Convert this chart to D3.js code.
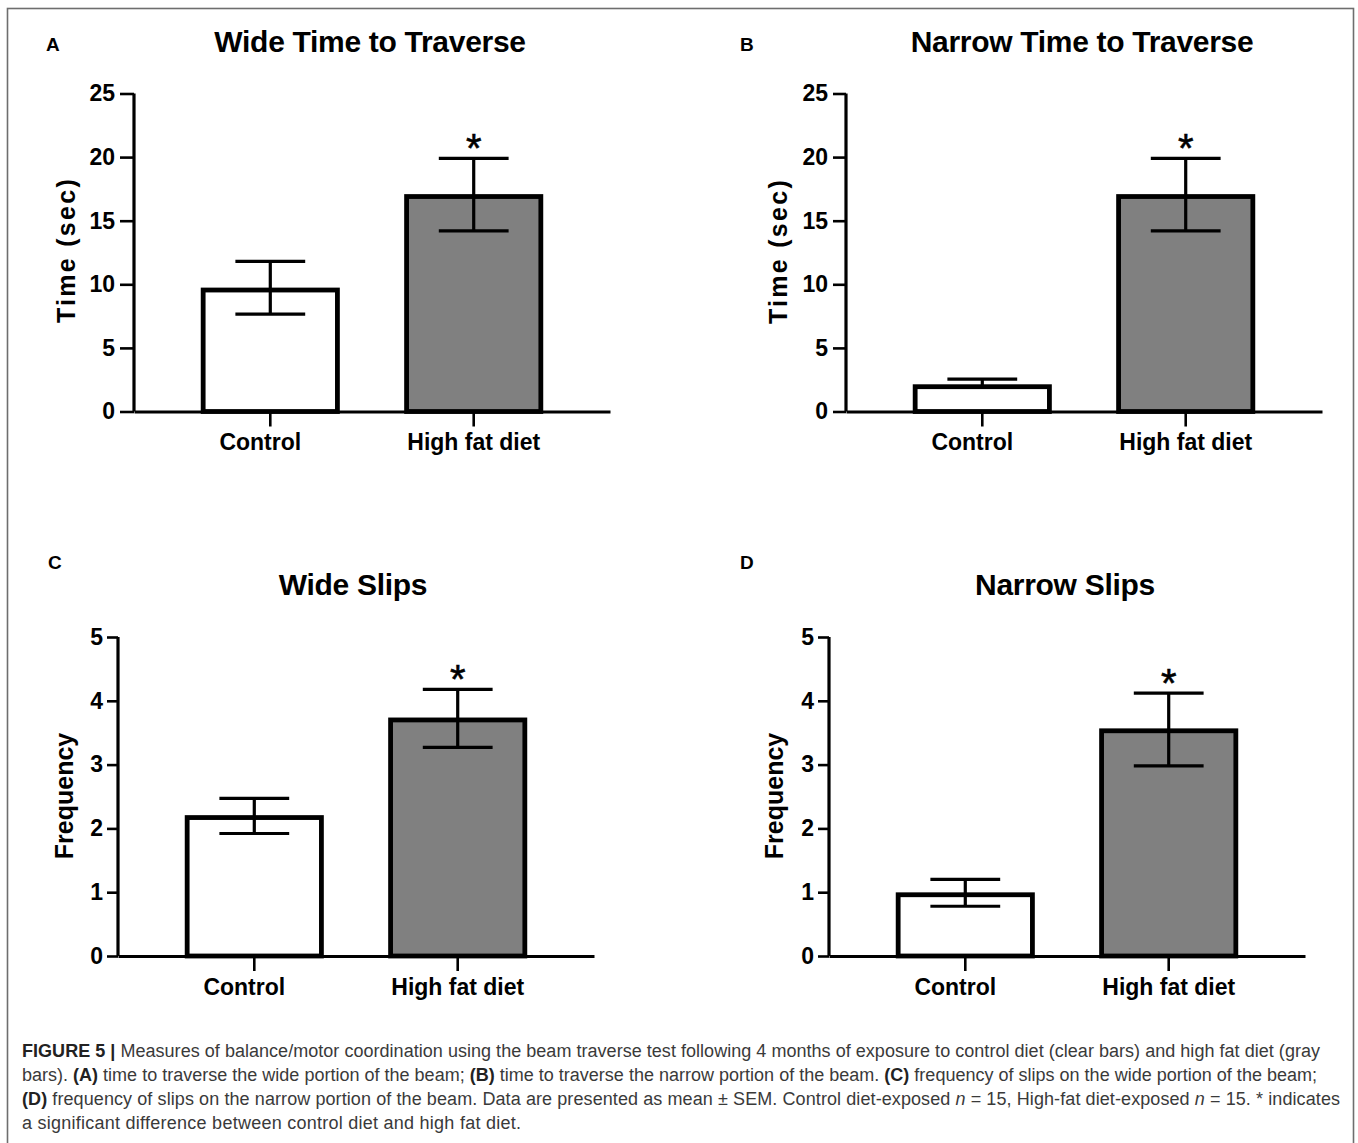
<!DOCTYPE html>
<html>
<head>
<meta charset="utf-8">
<script src="https://cdn.jsdelivr.net/npm/d3@7"></script>
<style>
  html, body { margin: 0; padding: 0; background: #fff; }
  svg { display: block; }
</style>
</head>
<body>
<svg id="fig" width="1358" height="1143"></svg>
<script>
// ---------------- DATA ----------------
const categories = ["Control", "High fat diet"];

const panelLetters = ["A", "B", "C", "D"];
const panelTitles = ["Wide Time to Traverse", "Narrow Time to Traverse", "Wide Slips", "Narrow Slips"];
const yLabels = ["Time (sec)", "Time (sec)", "Frequency", "Frequency"];

const timeTicks = [0, 5, 10, 15, 20, 25];
const slipTicks = [0, 1, 2, 3, 4, 5];

// means
const wideTimeMean   = [9.55, 16.9];
const narrowTimeMean = [1.95, 16.9];
const wideSlipMean   = [2.17, 3.70];
const narrowSlipMean = [0.96, 3.53];

// mean + SEM (upper whisker ends)
const wideTimeUpper   = [11.8, 19.9];
const narrowTimeUpper = [2.55, 19.9];
const wideSlipUpper   = [2.47, 4.18];
const narrowSlipUpper = [1.20, 4.12];

// mean - SEM (lower whisker ends; narrow-time control shows only the upper whisker)
const wideTimeLower   = [7.65, 14.2];
const narrowTimeLower = [1.95, 14.2];
const wideSlipLower   = [1.92, 3.27];
const narrowSlipLower = [0.78, 2.98];

// significance markers
const wideTimeSig   = [false, true];
const narrowTimeSig = [false, true];
const wideSlipSig   = [false, true];
const narrowSlipSig = [false, true];

const captionLines = [
  [["b", "FIGURE 5 | "], ["r", "Measures of balance/motor coordination using the beam traverse test following 4 months of exposure to control diet (clear bars) and high fat diet (gray"]],
  [["r", "bars). "], ["b", "(A)"], ["r", " time to traverse the wide portion of the beam; "], ["b", "(B)"], ["r", " time to traverse the narrow portion of the beam. "], ["b", "(C)"], ["r", " frequency of slips on the wide portion of the beam;"]],
  [["b", "(D)"], ["r", " frequency of slips on the narrow portion of the beam. Data are presented as mean \u00b1 SEM. Control diet-exposed "], ["i", "n"], ["r", " = 15, High-fat diet-exposed "], ["i", "n"], ["r", " = 15. * indicates"]],
  [["r", "a significant difference between control diet and high fat diet."]]
];

// ---------------- LAYOUT ----------------
const panels = [
  { means: wideTimeMean,   upper: wideTimeUpper,   lower: wideTimeLower,   sig: wideTimeSig,   ticks: timeTicks,
    ax: 134, y0: 411.5, y1: 93.5, letterX: 46, letterY: 51, titleX: 370, titleY: 52, ylX: 75, ylY: 250, tick: 14, pad: 5, catY: 450, ls: 2.3 },
  { means: narrowTimeMean, upper: narrowTimeUpper, lower: narrowTimeLower, sig: narrowTimeSig, ticks: timeTicks,
    ax: 846, y0: 411.5, y1: 93.5, letterX: 740, letterY: 51, titleX: 1082, titleY: 52, ylX: 787, ylY: 251, tick: 13, pad: 5, catY: 450, ls: 2.3 },
  { means: wideSlipMean,   upper: wideSlipUpper,   lower: wideSlipLower,   sig: wideSlipSig,   ticks: slipTicks,
    ax: 118, y0: 956, y1: 637, letterX: 48, letterY: 569, titleX: 353, titleY: 595, ylX: 73, ylY: 796, tick: 11, pad: 4, catY: 995, ls: 0 },
  { means: narrowSlipMean, upper: narrowSlipUpper, lower: narrowSlipLower, sig: narrowSlipSig, ticks: slipTicks,
    ax: 829, y0: 956, y1: 637, letterX: 740, letterY: 569, titleX: 1065, titleY: 595, ylX: 783, ylY: 796, tick: 11, pad: 4, catY: 995, ls: 0 }
];
const bandWidthPx = 476;
const labelShift = { "Control": -10, "High fat diet": 0 };
const FONT = "'Liberation Sans', Arial, Helvetica, sans-serif";

const svg = d3.select("#fig");

// outer frame
svg.append("rect")
  .attr("x", 7.5).attr("y", 8.5).attr("width", 1346).attr("height", 1200)
  .attr("fill", "none").attr("stroke", "#6e6e6e").attr("stroke-width", 1.6);

panels.forEach((p, i) => {
  const g = svg.append("g");
  const ymax = p.ticks[p.ticks.length - 1];
  const y = d3.scaleLinear().domain([0, ymax]).range([p.y0, p.y1]);
  const x = d3.scaleBand().domain(categories).range([p.ax, p.ax + bandWidthPx])
    .paddingInner(0.34).paddingOuter(0.34);
  const bw = x.bandwidth();
  const capW = bw * 0.52;

  // panel letter
  g.append("text").attr("x", p.letterX).attr("y", p.letterY)
    .attr("font-family", FONT).attr("font-weight", "bold").attr("font-size", 19)
    .text(panelLetters[i]);

  // title
  g.append("text").attr("x", p.titleX).attr("y", p.titleY)
    .attr("text-anchor", "middle")
    .attr("font-family", FONT).attr("font-weight", "bold").attr("font-size", 30)
    .attr("letter-spacing", -0.3)
    .text(panelTitles[i]);

  // y label
  g.append("text")
    .attr("transform", `translate(${p.ylX},${p.ylY}) rotate(-90)`)
    .attr("text-anchor", "middle")
    .attr("font-family", FONT).attr("font-weight", "bold").attr("font-size", 25)
    .attr("letter-spacing", p.ls)
    .text(yLabels[i]);

  // bars
  g.selectAll("rect.bar").data(categories).enter().append("rect")
    .attr("class", "bar")
    .attr("x", d => x(d)).attr("width", bw)
    .attr("y", (d, j) => y(p.means[j]))
    .attr("height", (d, j) => y(0) - y(p.means[j]))
    .attr("fill", (d, j) => j === 0 ? "#ffffff" : "#808080")
    .attr("stroke", "#000").attr("stroke-width", 4.8);

  // error bars
  const eb = g.selectAll("g.err").data(categories).enter().append("g").attr("class", "err")
    .attr("stroke", "#000").attr("stroke-width", 3.2);
  eb.append("line")
    .attr("x1", d => x(d) + bw / 2).attr("x2", d => x(d) + bw / 2)
    .attr("y1", (d, j) => y(p.lower[j])).attr("y2", (d, j) => y(p.upper[j]));
  eb.append("line")
    .attr("x1", d => x(d) + bw / 2 - capW / 2).attr("x2", d => x(d) + bw / 2 + capW / 2)
    .attr("y1", (d, j) => y(p.upper[j])).attr("y2", (d, j) => y(p.upper[j]));
  eb.filter((d, j) => p.lower[j] < p.means[j]).append("line")
    .attr("x1", d => x(d) + bw / 2 - capW / 2).attr("x2", d => x(d) + bw / 2 + capW / 2)
    .attr("y1", d => y(p.lower[categories.indexOf(d)])).attr("y2", d => y(p.lower[categories.indexOf(d)]));

  // significance
  g.selectAll("text.sig").data(categories.filter((d, j) => p.sig[j])).enter().append("text")
    .attr("class", "sig")
    .attr("x", d => x(d) + bw / 2)
    .attr("y", d => y(p.upper[categories.indexOf(d)]) + 4)
    .attr("text-anchor", "middle")
    .attr("font-family", FONT).attr("font-size", 40)
    .attr("stroke", "#000").attr("stroke-width", 0.6)
    .text("*");

  // y axis
  const ya = g.append("g").attr("transform", `translate(${p.ax},0)`)
    .call(d3.axisLeft(y).tickValues(p.ticks).tickSize(p.tick).tickSizeOuter(0).tickPadding(p.pad).tickFormat(d3.format("d")));
  ya.select(".domain").attr("stroke-width", 3.2).attr("d", `M0,${y(ymax)}V${y(0)}`);
  ya.selectAll(".tick line").attr("stroke-width", 2.6);
  ya.selectAll(".tick text").attr("font-family", FONT).attr("font-weight", "bold")
    .attr("font-size", 23).attr("fill", "#000");

  // x axis
  const xa = g.append("g").attr("transform", `translate(0,${p.y0})`)
    .call(d3.axisBottom(x).tickSize(15).tickSizeOuter(0).tickPadding(8));
  xa.select(".domain").attr("stroke-width", 3.2);
  xa.selectAll(".tick line").attr("stroke-width", 2.6);
  xa.selectAll(".tick text").attr("font-family", FONT).attr("font-weight", "bold")
    .attr("font-size", 23).attr("fill", "#000")
    .attr("dx", d => labelShift[d])
    .attr("y", p.catY - p.y0).attr("dy", 0);
});

// caption
const cap = svg.append("g").attr("font-family", FONT).attr("font-size", 18).attr("fill", "#3a3a3a");
const capY = [1057, 1081, 1105, 1129];
const capLen = [1298, 1295, 1318, 499];
captionLines.forEach((line, k) => {
  const t = cap.append("text").attr("x", 22).attr("y", capY[k]);
  if (capLen[k]) t.attr("textLength", capLen[k]).attr("lengthAdjust", "spacing");
  line.forEach(([s, str]) => {
    const ts = t.append("tspan").text(str);
    if (s === "b") ts.attr("font-weight", "bold").attr("fill", "#222");
    if (s === "i") ts.attr("font-style", "italic");
  });
});
</script>
</body>
</html>
